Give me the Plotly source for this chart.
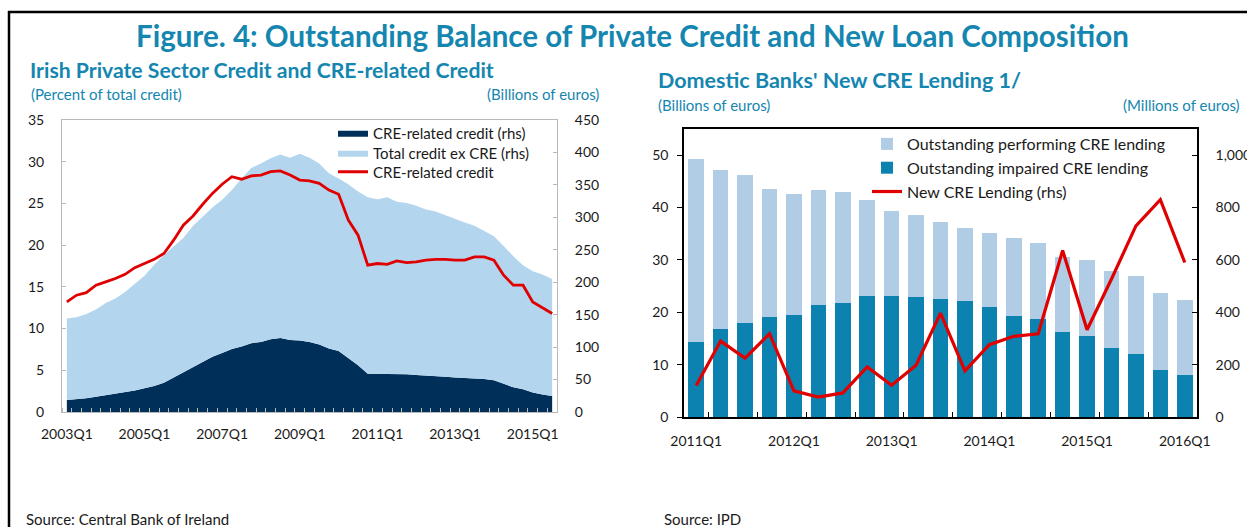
import plotly.graph_objects as go

W, H = 1247, 527

# ---------------- Left panel: Irish private sector credit ----------------
left_quarters = [f"{y}Q{q}" for y in range(2003, 2016) for q in range(1, 5)][:51]

# CRE-related credit, billions of euros (rhs)
cre_credit_bn = [18.5, 19.5, 21, 23.6, 26, 28, 30, 33, 36.5, 40, 45, 53, 61, 69, 77, 85,
                 91, 97, 101, 106, 108, 112, 114, 111, 110, 108, 104, 98, 94, 83, 72, 59,
                 59, 59, 59, 58, 57, 56.5, 56, 54.5, 53, 52.5, 52, 51, 49, 44, 38, 35, 30,
                 27, 24.7]

# Total credit excluding CRE, billions of euros (rhs)
ex_cre_credit_bn = [125.5, 126.5, 130, 134.4, 142, 147, 155, 165, 173.5, 187, 197, 202,
                    207, 218, 224, 230, 236, 245, 259, 270, 275, 279, 283, 281, 288, 284,
                    279, 270, 266, 268, 268, 272, 269, 272, 265, 264, 261, 255.5, 253,
                    248.5, 244, 239.5, 235, 228, 222, 212, 202, 191, 187, 185, 180.3]

# CRE-related credit, percent of total credit (lhs)
cre_share_pct = [13.2, 14.0, 14.3, 15.2, 15.6, 16.0, 16.5, 17.3, 17.8, 18.3, 19.0, 20.6,
                 22.4, 23.5, 24.9, 26.2, 27.3, 28.2, 27.9, 28.3, 28.4, 28.8, 28.9, 28.4,
                 27.8, 27.7, 27.4, 26.6, 26.1, 23.0, 21.2, 17.6, 17.8, 17.7, 18.1, 17.9,
                 18.0, 18.2, 18.3, 18.3, 18.2, 18.2, 18.6, 18.6, 18.2, 16.4, 15.2, 15.2,
                 13.2, 12.5, 11.8]

# ---------------- Right panel: domestic banks' CRE lending ----------------
right_quarters = [f"{y}Q{q}" for y in range(2011, 2017) for q in range(1, 5)][:21]

impaired_bn = [14.4, 16.8, 17.9, 19.1, 19.5, 21.3, 21.7, 23.2, 23.2, 22.9, 22.5, 22.1,
               21.1, 19.3, 18.7, 16.2, 15.4, 13.2, 12.1, 8.9, 8.1]
performing_bn = [34.8, 30.4, 28.3, 24.5, 23.1, 22.0, 21.2, 18.3, 16.2, 15.7, 14.8, 13.9,
                 14.0, 14.9, 14.5, 14.3, 14.6, 14.7, 14.9, 14.8, 14.3]
new_lending_mn = [120, 290, 225, 318, 100, 76, 92, 191, 121, 198, 397, 176, 276, 308,
                  318, 636, 333, 527, 730, 830, 590]

TEAL = "#1486b0"
NAVY = "#00305a"
LIGHT = "#b3d6ee"
RED = "#e00000"
BAR_LIGHT = "#b1cce5"
BAR_DARK = "#0b82b0"
FONT = "Lato"


def fx(px):
    return px / W


def fy(py):
    return 1 - py / H


lx = list(range(len(left_quarters)))
rx = list(range(len(right_quarters)))

fig = go.Figure()

# left panel areas (rhs, billions); each left-panel entry gets its own legend box
fig.add_trace(go.Scatter(
    x=lx, y=cre_credit_bn, name="CRE-related credit (rhs)", stackgroup="credit",
    mode="lines", line=dict(width=0, color=NAVY), fillcolor=NAVY,
    xaxis="x", yaxis="y", legend="legend"))
fig.add_trace(go.Scatter(
    x=lx, y=ex_cre_credit_bn, name="Total credit ex CRE (rhs)", stackgroup="credit",
    mode="lines", line=dict(width=0, color=LIGHT), fillcolor=LIGHT,
    xaxis="x", yaxis="y", legend="legend3"))
fig.add_trace(go.Scatter(
    x=lx, y=cre_share_pct, name="CRE-related credit", mode="lines",
    line=dict(width=2.8, color=RED), xaxis="x", yaxis="y2", legend="legend4"))

# right panel bars (lhs, billions) and new lending line (rhs, millions)
fig.add_trace(go.Bar(
    x=rx, y=impaired_bn, name="Outstanding impaired CRE lending",
    marker=dict(color=BAR_DARK, line=dict(width=0)),
    xaxis="x2", yaxis="y3", legend="legend2", legendrank=2))
fig.add_trace(go.Bar(
    x=rx, y=performing_bn, name="Outstanding performing CRE lending",
    marker=dict(color=BAR_LIGHT, line=dict(width=0)),
    xaxis="x2", yaxis="y3", legend="legend2", legendrank=1))
fig.add_trace(go.Scatter(
    x=rx, y=new_lending_mn, name="New CRE Lending (rhs)", mode="lines",
    line=dict(width=3.2, color=RED), xaxis="x2", yaxis="y4",
    legend="legend2", legendrank=3))

tick_font = dict(family=FONT, size=14, color="#1a1a1a")
GRID_GREY = "#b9b9b9"

left_tickvals = lx[::8]
right_tickvals = rx[::4]


def left_legend(center_y):
    return dict(
        x=fx(333), y=fy(center_y), xanchor="left", yanchor="middle",
        bgcolor="rgba(0,0,0,0)", font=dict(family=FONT, size=15, color="#1a1a1a"),
        itemwidth=30,
    )


fig.update_layout(
    width=W, height=H,
    margin=dict(l=0, r=0, t=0, b=0, autoexpand=False),
    paper_bgcolor="white", plot_bgcolor="white",
    barmode="stack", bargap=0.36,
    font=dict(family=FONT, size=14, color="#1a1a1a"),
    xaxis=dict(
        domain=[fx(62), fx(557)], range=[-0.5, len(lx) - 0.5], automargin=False,
        tickvals=left_tickvals, ticktext=[left_quarters[i] for i in left_tickvals],
        ticks="", showgrid=False, zeroline=False, tickfont=tick_font,
        showline=True, linecolor=GRID_GREY, linewidth=1, mirror=True,
        ticklabelstandoff=9,
        minor=dict(ticks="inside", tick0=0.5, dtick=1, ticklen=4,
                   tickcolor=GRID_GREY, showgrid=False),
    ),
    yaxis=dict(
        domain=[fy(412), fy(120)], range=[0, 450], side="right", automargin=False,
        tickvals=list(range(0, 451, 50)), ticks="inside", ticklen=4,
        tickcolor=GRID_GREY, showgrid=False, zeroline=False, tickfont=tick_font,
        showline=True, linecolor=GRID_GREY, linewidth=1, anchor="x",
        ticklabelstandoff=14,
    ),
    yaxis2=dict(
        domain=[fy(412), fy(120)], range=[0, 35], side="left", overlaying="y",
        automargin=False,
        tickvals=list(range(0, 36, 5)), ticks="inside", ticklen=4,
        tickcolor=GRID_GREY, showgrid=False, zeroline=False, tickfont=tick_font,
        showline=True, linecolor=GRID_GREY, linewidth=1, anchor="x",
        ticklabelstandoff=14,
    ),
    xaxis2=dict(
        domain=[fx(684), fx(1197)], range=[-0.5, len(rx) - 0.5], anchor="y3",
        automargin=False,
        tickvals=right_tickvals, ticktext=[right_quarters[i] for i in right_tickvals],
        ticks="", showgrid=False, zeroline=False, tickfont=tick_font,
        showline=True, linecolor="black", linewidth=1.5, mirror=True,
        ticklabelstandoff=10,
        minor=dict(ticks="inside", tick0=0.5, dtick=2, ticklen=5,
                   tickcolor="black", showgrid=False),
    ),
    yaxis3=dict(
        domain=[fy(417), fy(129)], range=[0, 55], side="left", anchor="x2",
        automargin=False,
        tickvals=list(range(0, 51, 10)), ticks="outside", ticklen=5,
        tickcolor="black", showgrid=False, zeroline=False, tickfont=tick_font,
        showline=True, linecolor="black", linewidth=1.5,
        ticklabelstandoff=6,
    ),
    yaxis4=dict(
        domain=[fy(417), fy(129)], range=[0, 1100], side="right", anchor="x2",
        overlaying="y3", automargin=False, tickvals=list(range(0, 1001, 200)),
        tickformat=",d", ticks="inside", ticklen=5,
        tickcolor="black", showgrid=False, zeroline=False, tickfont=tick_font,
        showline=True, linecolor="black", linewidth=1.5,
        ticklabelstandoff=14,
    ),
    legend=left_legend(133),
    legend3=left_legend(153),
    legend4=left_legend(172),
    legend2=dict(
        x=fx(867), y=fy(127), xanchor="left", yanchor="top",
        bgcolor="rgba(0,0,0,0)", font=dict(family=FONT, size=16, color="#1a1a1a"),
        traceorder="normal", tracegroupgap=0, itemwidth=30,
    ),
    showlegend=True,
)

annotations = [
    dict(text="<b>Figure. 4: Outstanding Balance of Private Credit and New Loan Composition</b>",
         x=fx(632), y=fy(35), xanchor="center", yanchor="middle",
         font=dict(family=FONT, size=29.5, color=TEAL)),
    dict(text="<b>Irish Private Sector Credit and CRE-related Credit</b>",
         x=fx(28), y=fy(70), xanchor="left", yanchor="middle",
         font=dict(family=FONT, size=21.2, color=TEAL)),
    dict(text="(Percent of total credit)", x=fx(29), y=fy(94), xanchor="left",
         yanchor="middle", font=dict(family=FONT, size=15, color=TEAL)),
    dict(text="(Billions of euros)", x=fx(601), y=fy(94), xanchor="right",
         yanchor="middle", font=dict(family=FONT, size=15, color=TEAL)),
    dict(text="<b>Domestic Banks' New CRE Lending 1/</b>",
         x=fx(656), y=fy(80), xanchor="left", yanchor="middle",
         font=dict(family=FONT, size=21.5, color=TEAL)),
    dict(text="(Billions of euros)", x=fx(656), y=fy(105), xanchor="left",
         yanchor="middle", font=dict(family=FONT, size=15, color=TEAL)),
    dict(text="(Millions of euros)", x=fx(1242), y=fy(105), xanchor="right",
         yanchor="middle", font=dict(family=FONT, size=15, color=TEAL)),
    dict(text="Source: Central Bank of Ireland", x=fx(24), y=fy(519), xanchor="left",
         yanchor="middle", font=dict(family=FONT, size=15, color="#1a1a1a")),
    dict(text="Source: IPD", x=fx(662), y=fy(519), xanchor="left",
         yanchor="middle", font=dict(family=FONT, size=15, color="#1a1a1a")),
]
for a in annotations:
    a.update(xref="paper", yref="paper", showarrow=False)
fig.update_layout(annotations=annotations)

# outer frame of the figure (left and top edges)
fig.update_layout(shapes=[
    dict(type="line", xref="paper", yref="paper", x0=fx(9), x1=fx(9),
         y0=0, y1=fy(11), line=dict(color="black", width=2.5)),
    dict(type="line", xref="paper", yref="paper", x0=fx(8), x1=1,
         y0=fy(12), y1=fy(12), line=dict(color="black", width=2.5)),
])

fig.write_html("out.html")
